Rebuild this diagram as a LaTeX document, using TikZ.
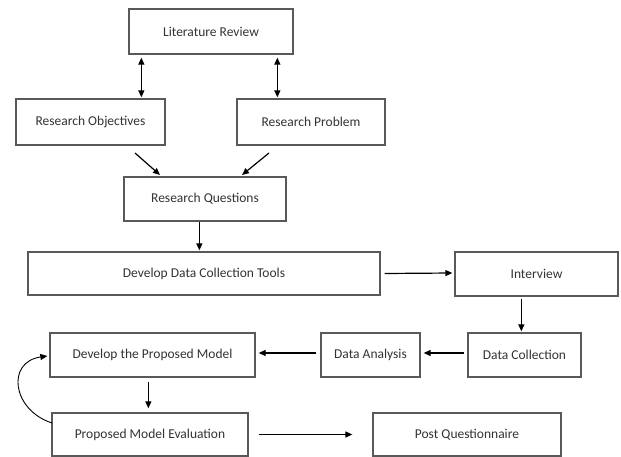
\documentclass[tikz,border=0pt]{standalone}
\usepackage{fontspec}
\setmainfont{Carlito}
\usetikzlibrary{arrows.meta,calc}
\begin{document}
\begin{tikzpicture}[x=1pt,y=-1pt,
  box/.style={draw=black!65,line width=1.3pt,fill=white,inner sep=0pt,font=\fontsize{13.5}{15}\selectfont,text=black!80},
  arr/.style={-{Triangle[length=7pt,width=6pt]},line width=1.2pt,black},
  darr/.style={{Triangle[length=7pt,width=6pt]}-{Triangle[length=7pt,width=6pt]},line width=1.2pt,black}]
\useasboundingbox (0,0) rectangle (621,457);
\node[box,minimum width=164pt,minimum height=45pt] (LR) at (211,31.5) {Literature Review};
\node[box,minimum width=149pt,minimum height=46pt] (RO) at (90.5,122) {Research Objectives};
\node[box,minimum width=148pt,minimum height=46pt] (RP) at (311,122) {Research Problem};
\node[box,minimum width=162pt,minimum height=44pt] (RQ) at (205,199) {Research Questions};
\node[box,minimum width=352pt,minimum height=43pt] (DDCT) at (204,273.5) {Develop Data Collection Tools};
\node[box,minimum width=163pt,minimum height=44pt] (IV) at (536.5,274) {Interview};
\node[box,minimum width=113pt,minimum height=44pt] (DC) at (524.5,355) {Data Collection};
\node[box,minimum width=99pt,minimum height=44pt] (DA) at (370.5,355) {Data Analysis};
\node[box,minimum width=205pt,minimum height=44pt] (DPM) at (152.5,355) {Develop the Proposed Model};
\node[box,minimum width=196pt,minimum height=43pt] (PME) at (150,434.5) {Proposed Model Evaluation};
\node[box,minimum width=188pt,minimum height=43pt] (PQ) at (467,434.5) {Post Questionnaire};

\coordinate (a1) at (135,153);
\coordinate (a2) at (160,175);
\coordinate (b1) at (269,153);
\coordinate (b2) at (242,175);
\coordinate (c1) at (52,423);

\draw[darr] ($(LR.south west)+(13,3)$) -- ($(RO.north west)+(126,-1)$);
\draw[darr] ($(LR.south west)+(149,3)$) -- ($(RP.north west)+(41,-1)$);
\draw[arr] (a1) -- (a2);
\draw[arr] (b1) -- (b2);
\draw[arr] ($(RQ.south west)+(76,0)$) -- ($(DDCT.north west)+(172,-1)$);
\draw[arr] ($(DDCT.east)+(4,0)$) -- ($(IV.west)+(-2,-1)$);
\draw[arr] ($(IV.south west)+(67,2)$) -- ($(DC.north west)+(54,-1)$);
\draw[arr] ($(DC.west)+(-3,-2)$) -- ($(DA.east)+(3,-2)$);
\draw[arr] ($(DA.west)+(-4,-2)$) -- ($(DPM.east)+(3,-2)$);
\draw[arr] ($(DPM.south west)+(99,4)$) -- ($(PME.north west)+(97,-4)$);
\draw[arr] ($(PME.east)+(10,0)$) -- ($(PQ.west)+(-20,0)$);
\draw[-{Triangle[length=7pt,width=6pt]},line width=0.9pt,black] (c1) .. controls (12,410) and (6,362) .. ($(DPM.west)+(-2,1)$);
\end{tikzpicture}
\end{document}
